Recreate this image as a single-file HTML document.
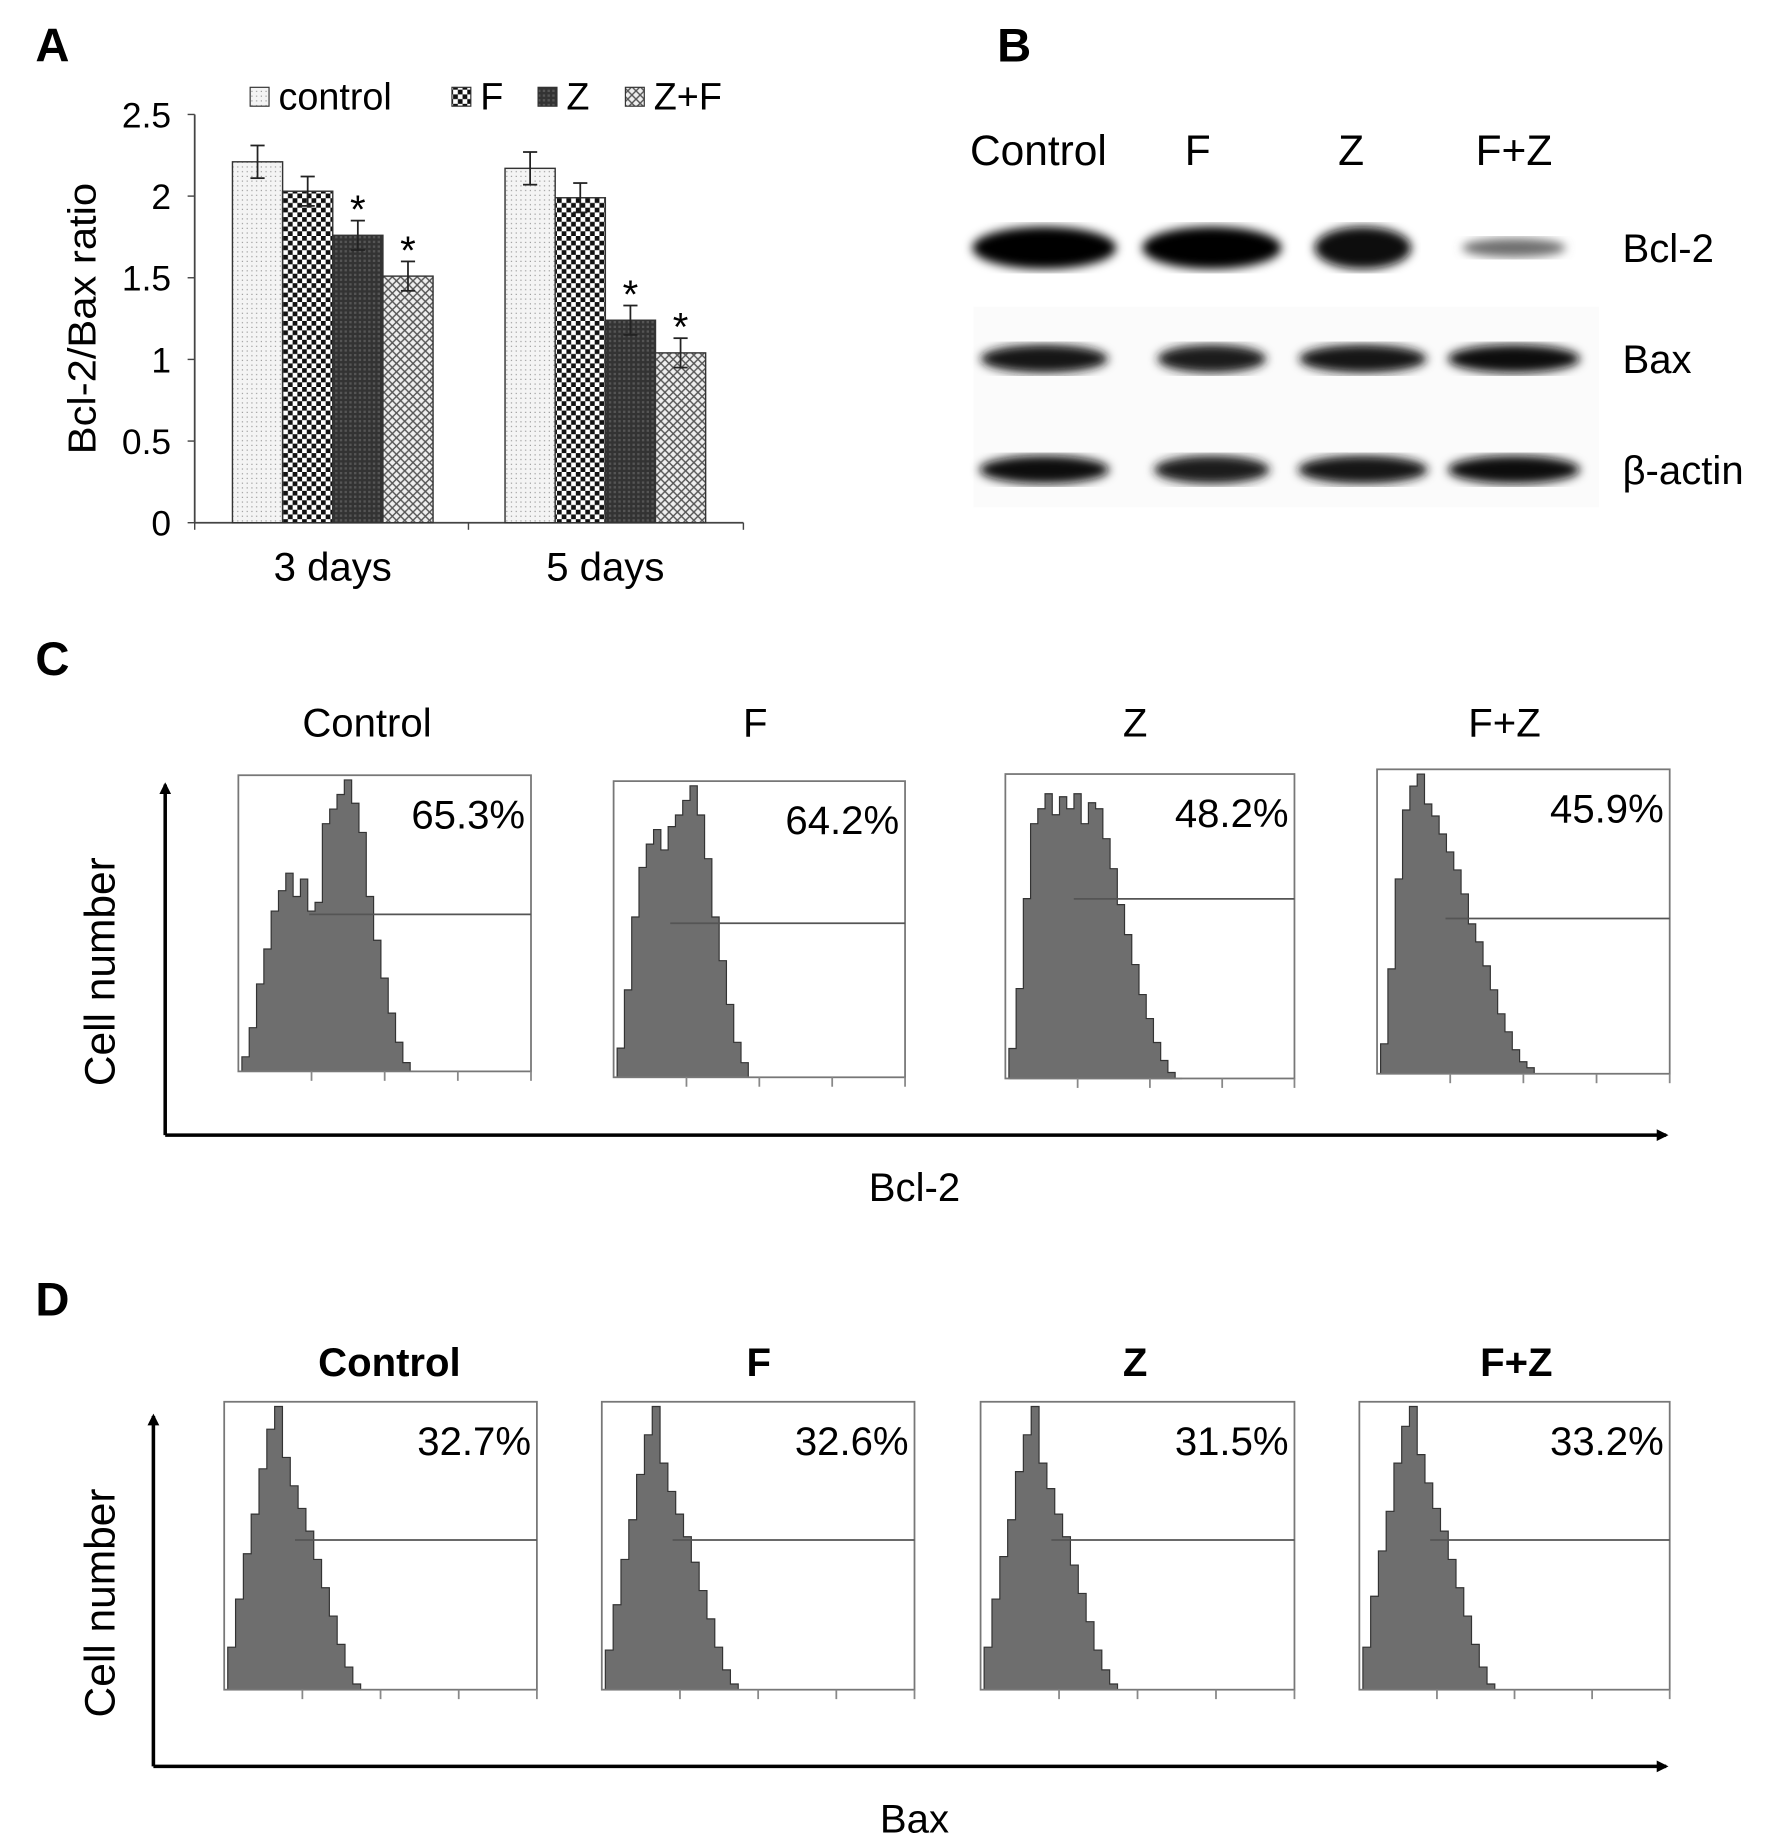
<!DOCTYPE html>
<html><head><meta charset="utf-8"><style>
html,body{margin:0;padding:0;background:#fff}
svg{display:block}
text{font-family:"Liberation Sans","DejaVu Sans",sans-serif;fill:#000}
</style></head><body>
<svg id="fig" width="1770" height="1836" viewBox="0 0 1500 1556" preserveAspectRatio="none" xmlns="http://www.w3.org/2000/svg">
<defs>
<pattern id="pCtrl" width="4" height="4" patternUnits="userSpaceOnUse"><rect width="4" height="4" fill="#f4f4f4"/><rect x="1" y="1" width="1" height="1" fill="#999"/></pattern>
<pattern id="pF" width="8" height="8" patternUnits="userSpaceOnUse"><rect width="8" height="8" fill="#fff"/><rect width="4" height="4" fill="#111"/><rect x="4" y="4" width="4" height="4" fill="#111"/></pattern>
<pattern id="pZ" width="4" height="4" patternUnits="userSpaceOnUse"><rect width="4" height="4" fill="#333"/><rect width="2" height="2" fill="#555"/></pattern>
<pattern id="pZF" width="7" height="7" patternUnits="userSpaceOnUse"><rect width="7" height="7" fill="#eee"/><path d="M0 0L7 7M7 0L0 7" stroke="#555" stroke-width="1.2"/></pattern>
<filter id="blur"><feGaussianBlur stdDeviation="4"/></filter>
<marker id="arr" markerWidth="10" markerHeight="10" refX="8" refY="5" orient="auto" markerUnits="userSpaceOnUse"><path d="M0 0L10 5L0 10Z" fill="#000"/></marker>
</defs>

<text x="30" y="52" font-size="40" font-weight="bold">A</text>
<text x="845" y="52" font-size="40" font-weight="bold">B</text>
<text x="30" y="572" font-size="40" font-weight="bold">C</text>
<text x="30" y="1115" font-size="40" font-weight="bold">D</text>

<g id="barChart"></g>
<g id="blot"></g>
<g id="flowC"></g>
<g id="flowD"></g>
</svg>
<script>
const groups = ["3 days", "5 days"];
const seriesNames = ["control", "F", "Z", "Z+F"];
const valControl = [2.21, 2.17];
const valF = [2.03, 1.99];
const valZ = [1.76, 1.24];
const valZF = [1.51, 1.04];
const errControl = [0.1, 0.1];
const errF = [0.09, 0.09];
const errZ = [0.09, 0.09];
const errZF = [0.09, 0.09];
const sigZ = [true, true];
const sigZF = [true, true];
const yTicks = [0, 0.5, 1, 1.5, 2, 2.5];
const yTickLabels = ["0", "0.5", "1", "1.5", "2", "2.5"];

const blotLanes = ["Control", "F", "Z", "F+Z"];
const blotRows = ["Bcl-2", "Bax", "β-actin"];
const bandBcl2 = [1.0, 1.0, 0.97, 0.5];
const bandBax = [0.92, 0.88, 0.9, 0.93];
const bandActin = [0.93, 0.88, 0.9, 0.93];

const flowTitles = ["Control", "F", "Z", "F+Z"];
const pctBcl2 = ["65.3%", "64.2%", "48.2%", "45.9%"];
const pctBax = ["32.7%", "32.6%", "31.5%", "33.2%"];
const histC1 = [0.05,0.15,0.3,0.42,0.55,0.62,0.68,0.6,0.66,0.55,0.58,0.85,0.9,0.95,1.0,0.92,0.82,0.6,0.45,0.32,0.2,0.1,0.03,0];
const histC2 = [0.1,0.3,0.55,0.72,0.8,0.85,0.78,0.86,0.9,0.95,1.0,0.9,0.75,0.55,0.4,0.25,0.12,0.05,0];
const histC3 = [0.1,0.3,0.6,0.85,0.9,0.95,0.88,0.94,0.9,0.95,0.85,0.92,0.9,0.8,0.7,0.58,0.48,0.38,0.28,0.2,0.12,0.06,0.02,0];
const histC4 = [0.1,0.35,0.65,0.88,0.96,1.0,0.9,0.86,0.8,0.74,0.68,0.6,0.5,0.44,0.36,0.28,0.2,0.14,0.08,0.04,0.02,0];
const histD1 = [0.15,0.32,0.48,0.62,0.78,0.92,1.0,0.82,0.72,0.64,0.56,0.46,0.36,0.26,0.16,0.08,0.02,0];
const histD2 = [0.14,0.3,0.46,0.6,0.76,0.9,1.0,0.8,0.7,0.62,0.54,0.45,0.35,0.25,0.15,0.07,0.02,0];
const histD3 = [0.15,0.32,0.47,0.6,0.77,0.9,1.0,0.8,0.71,0.62,0.54,0.44,0.34,0.24,0.14,0.07,0.02,0];
const histD4 = [0.15,0.33,0.49,0.63,0.8,0.93,1.0,0.83,0.73,0.64,0.56,0.46,0.36,0.26,0.16,0.08,0.02,0];
const gateC = [0.53, 0.52, 0.59, 0.51];
const gateD = [0.52, 0.52, 0.52, 0.52];

const NS = "http://www.w3.org/2000/svg";
function mk(tag, attrs, parent, txt) {
  const e = document.createElementNS(NS, tag);
  for (const k in attrs) e.setAttribute(k, attrs[k]);
  if (txt !== undefined) e.textContent = txt;
  parent.appendChild(e);
  return e;
}

// ---- Panel A ----
(function () {
  const g = document.getElementById("barChart");
  const x0 = 165, x1 = 630, yBase = 443, yTop = 97;
  const yMax = 2.5;
  const ys = v => yBase - (v / yMax) * (yBase - yTop);
  const groupStart = [197, 428];
  const barW = 42.5;
  const vals = [valControl, valF, valZ, valZF];
  const errs = [errControl, errF, errZ, errZF];
  const fills = ["url(#pCtrl)", "url(#pF)", "url(#pZ)", "url(#pZF)"];
  const sigs = [null, null, sigZ, sigZF];
  const ax = mk("line", {x1: x0, y1: yTop, x2: x0, y2: yBase, stroke: "#444", "stroke-width": 1.5}, g);
  
  
  const xa = mk("line", {x1: x0, y1: yBase, x2: x1, y2: yBase, stroke: "#444", "stroke-width": 1.5}, g);
  
  
  [x0, 397, x1].forEach(x => mk("line", {x1: x, y1: yBase, x2: x, y2: yBase + 6, stroke: "#444", "stroke-width": 1.2}, g));
  yTicks.forEach((v, i) => {
    mk("line", {x1: x0 - 6, y1: ys(v), x2: x0, y2: ys(v), stroke: "#444", "stroke-width": 1.2}, g);
    const t = mk("text", {x: x0 - 20, y: ys(v) + 11, "font-size": 30, "text-anchor": "end"}, g, yTickLabels[i]);
    
    
  });
  const yt = mk("text", {x: 0, y: 0, "font-size": 33, "text-anchor": "middle", textLength: 230, lengthAdjust: "spacingAndGlyphs", transform: "translate(81,270) rotate(-90)"}, g, "Bcl-2/Bax ratio");
  
  
  groups.forEach((gname, gi) => {
    vals.forEach((arr, si) => {
      const bx = groupStart[gi] + si * barW;
      const v = arr[gi];
      const r = mk("rect", {x: bx, y: ys(v), width: barW, height: yBase - ys(v), fill: fills[si], stroke: "#333", "stroke-width": 1.2}, g);
      
      
      const e = errs[si][gi], cx = bx + barW / 2;
      mk("line", {x1: cx, y1: ys(v + e), x2: cx, y2: ys(v - e), stroke: "#222", "stroke-width": 1.5}, g);
      mk("line", {x1: cx - 6, y1: ys(v + e), x2: cx + 6, y2: ys(v + e), stroke: "#222", "stroke-width": 1.5}, g);
      mk("line", {x1: cx - 6, y1: ys(v - e), x2: cx + 6, y2: ys(v - e), stroke: "#222", "stroke-width": 1.5}, g);
      if (sigs[si] && sigs[si][gi]) {
        const s = mk("text", {x: cx, y: ys(v + e) + 2, "font-size": 34, "text-anchor": "middle"}, g, "*");
        
        
      }
    });
    const gl = mk("text", {x: groupStart[gi] + 2 * barW, y: 492, "font-size": 34, "text-anchor": "middle"}, g, gname);
    
    
  });
  const legX = [212, 383, 456, 530];
  seriesNames.forEach((n, i) => {
    mk("rect", {x: legX[i], y: 74, width: 16, height: 16, fill: fills[i], stroke: "#333", "stroke-width": 1}, g);
    const t = mk("text", {x: legX[i] + 24, y: 93, "font-size": 32}, g, n);
    
    
  });
})();

// ---- Panel B ----
(function () {
  const g = document.getElementById("blot");
  mk("rect", {x: 825, y: 260, width: 530, height: 170, fill: "#fbfbfb"}, g);
  const laneX = [885, 1027, 1155, 1283];
  const laneLabelX = [880, 1015, 1145, 1283];
  const rowY = [210, 304, 398];
  const bandW = [[122, 118, 82, 88], [108, 92, 108, 112], [110, 98, 110, 112]];
  const intens = [bandBcl2, bandBax, bandActin];
  blotLanes.forEach((l, i) => {
    const t = mk("text", {x: laneLabelX[i], y: 140, "font-size": 36, "text-anchor": "middle"}, g, l);
    
    
  });
  blotRows.forEach((r, ri) => {
    intens[ri].forEach((v, li) => {
      const h = ri === 0 ? (v > 0.9 ? 36 : 16) : 24;
      const shade = Math.round(220 * (1 - v));
      const e = mk("ellipse", {cx: laneX[li], cy: rowY[ri], rx: bandW[ri][li] / 2, ry: h / 2, fill: `rgb(${shade},${shade},${shade})`, filter: "url(#blur)"}, g);
      
      
    });
    const t = mk("text", {x: 1375, y: rowY[ri] + 12, "font-size": 34}, g, r);
    
    
  });
})();

// ---- Flow panels ----
function flowPanel(gid, boxes, hists, pcts, gates, titleCx, titleY, titleBold, gateStart, axis, xlabel) {
  const g = document.getElementById(gid);
  boxes.forEach((b, i) => {
    const [x, y, w, h] = b;
    const t = mk("text", {x: titleCx[i], y: titleY, "font-size": 34, "text-anchor": "middle", "font-weight": titleBold ? "bold" : "normal"}, g, flowTitles[i]);
    
    
    const bw = w / 40;
    const data = hists[i];
    let d = `M${x + 3},${y + h}`;
    data.forEach((v, k) => {
      const px = x + 3 + k * bw;
      const py = y + h - v * (h - 4);
      d += `L${px},${py}L${px + bw},${py}`;
    });
    d += `L${x + 3 + data.length * bw},${y + h}Z`;
    const p = mk("path", {d: d, fill: "#6e6e6e", stroke: "#333", "stroke-width": 1}, g);
    
    
    const r = mk("rect", {x: x, y: y, width: w, height: h, fill: "none", stroke: "#777", "stroke-width": 1.5}, g);
    
    
    const gy = y + h - gates[i] * h;
    mk("line", {x1: x + gateStart[i], y1: gy, x2: x + w, y2: gy, stroke: "#555", "stroke-width": 1.5}, g);
    for (let k = 1; k <= 4; k++) {
      const tx = x + w * (k / 4);
      mk("line", {x1: tx, y1: y + h, x2: tx, y2: y + h + 8, stroke: "#888", "stroke-width": 1.5}, g);
    }
    const pt = mk("text", {x: x + w - 5, y: y + 45, "font-size": 34, "text-anchor": "end"}, g, pcts[i]);
    
    
  });
  const [ax, ay0, ay1, ax1] = axis;
  const va = mk("line", {x1: ax, y1: ay0, x2: ax, y2: ay1, stroke: "#000", "stroke-width": 3, "marker-end": "url(#arr)"}, g);
  
  
  const ha = mk("line", {x1: ax, y1: ay0, x2: ax1, y2: ay0, stroke: "#000", "stroke-width": 3, "marker-end": "url(#arr)"}, g);
  
  
  const yl = mk("text", {x: 0, y: 0, "font-size": 36, "text-anchor": "middle", transform: `translate(97,${(ay0 + ay1) / 2 + 10}) rotate(-90)`}, g, "Cell number");
  
  
  const xl = mk("text", {x: 775, y: ay0 + 56, "font-size": 34, "text-anchor": "middle"}, g, xlabel);
  
  
}
flowPanel("flowC",
  [[202, 657, 248, 251], [520, 662, 247, 251], [852, 656, 245, 258], [1167, 652, 248, 258]],
  [histC1, histC2, histC3, histC4], pctBcl2, gateC,
  [311, 640, 962, 1275], 624, false, [60, 48, 58, 58],
  [140, 962, 665, 1412], "Bcl-2");
flowPanel("flowD",
  [[190, 1188, 265, 244], [510, 1188, 265, 244], [831, 1188, 266, 244], [1152, 1188, 263, 244]],
  [histD1, histD2, histD3, histD4], pctBax, gateD,
  [330, 643, 962, 1285], 1166, true, [60, 60, 60, 60],
  [130, 1497, 1200, 1412], "Bax");
</script>
</body></html>
